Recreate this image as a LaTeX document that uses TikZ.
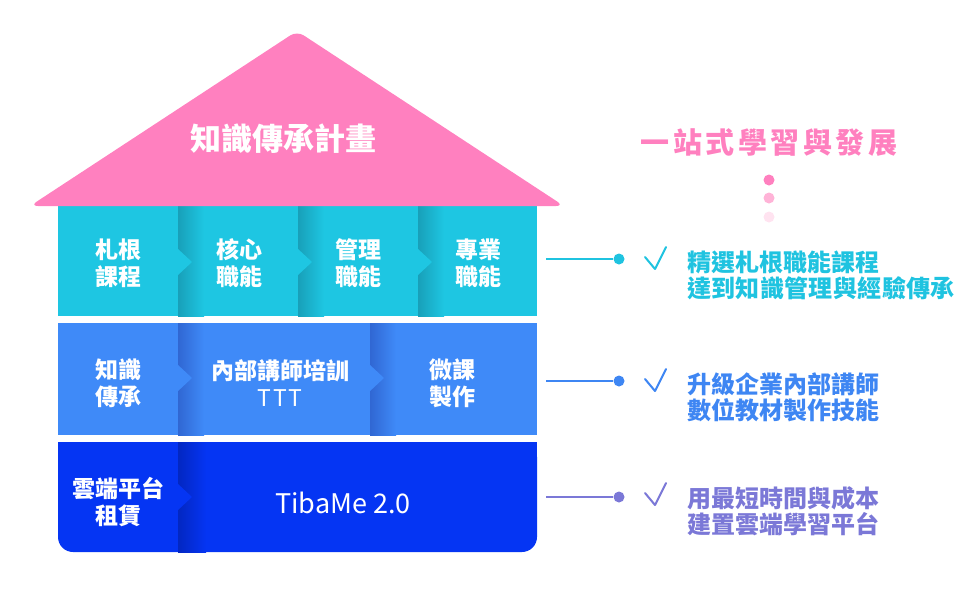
\documentclass[tikz,border=0pt]{standalone}
\usepackage{fontspec}
\setmainfont{Noto Sans CJK TC}
\definecolor{pinkR}{HTML}{FF80BF}
\definecolor{dotA}{HTML}{FF80BF}
\definecolor{dotB}{HTML}{FFB3D7}
\definecolor{dotC}{HTML}{FFE3F0}
\definecolor{cyanB}{HTML}{1EC6E2}
\definecolor{cyanD}{HTML}{18A0B9}
\definecolor{blueB}{HTML}{3F8AF8}
\definecolor{blueD}{HTML}{3067D3}
\definecolor{navyB}{HTML}{0535F3}
\definecolor{navyD}{HTML}{0327C2}
\definecolor{cyanT}{HTML}{1FC3E0}
\definecolor{blueT}{HTML}{3E86F3}
\definecolor{purpT}{HTML}{7B78D7}
\tikzset{
  bandtxt/.style={text=white, align=center, inner sep=0pt, font=\bfseries\fontsize{23}{27}\selectfont},
  rtxt/.style={anchor=west, align=left, inner sep=0pt, font=\bfseries\fontsize{24}{26}\selectfont},
  dotn/.style={circle, inner sep=0pt, minimum size=11pt},
  conn/.style={line width=1.8pt},
  chk/.style={line width=2pt, line cap=round, line join=round}
}
\begin{document}
\begin{tikzpicture}[x=1pt,y=-1pt]
\useasboundingbox (0,0) rectangle (970,600);
% ---- band 1
\fill[cyanB] (58,203) rectangle (537,316);
\foreach \xb in {178,298,418}{
  \shade[left color=cyanD, right color=cyanB] (\xb,203) rectangle (\xb+26,316);
  \fill[cyanB] (\xb-1,248) -- (\xb+14,262) -- (\xb-1,276) -- cycle;
}
% ---- band 2
\fill[blueB] (58,323) rectangle (537,435);
\foreach \xb in {178,370}{
  \shade[left color=blueD, right color=blueB] (\xb,323) rectangle (\xb+26,435);
  \fill[blueB] (\xb-1,364) -- (\xb+14,378) -- (\xb-1,392) -- cycle;
}
% ---- band 3
\fill[navyB, rounded corners=15pt] (58,442) rectangle (537,552);
\fill[navyB] (58,442) rectangle (537,480);
\shade[left color=navyD, right color=navyB] (178,442) rectangle (206,552);
\fill[navyB] (177,483) -- (192,497) -- (177,511) -- cycle;
% ---- roof
\fill[pinkR, rounded corners=8pt] (297,31) -- (564,206) -- (30,206) -- cycle;
\node[text=white, inner sep=0pt, font=\bfseries\fontsize{31}{34}\selectfont] (roof) at (283,139) {知識傳承計畫};
% ---- band texts
\node[bandtxt] (a1) at (118,263) {札根\\課程};
\node[bandtxt] (a2) at (239,263) {核心\\職能};
\node[bandtxt] (a3) at (358,263) {管理\\職能};
\node[bandtxt] (a4) at (478,263) {專業\\職能};
\node[bandtxt] (b1) at (118,383) {知識\\傳承};
\node[bandtxt] (b2) at (280,383) {內部講師培訓\\{\mdseries\addfontfeatures{LetterSpace=6}TTT}};
\node[bandtxt] (b3) at (452,383) {微課\\製作};
\node[bandtxt] (c1) at (118,502) {雲端平台\\租賃};
\node[text=white, inner sep=0pt, font=\fontsize{27}{30}\selectfont] (c2) at (343,503) {TibaMe 2.0};
% ---- right side title
\node[text=pinkR, inner sep=0pt, font=\bfseries\fontsize{29}{32}\selectfont\addfontfeatures{LetterSpace=12}] (title) at (769,143) {一站式學習與發展};
\node[dotn, fill=dotA] (d1) at (769,180) {};
\node[dotn, fill=dotB] (d2) at (769,198) {};
\node[dotn, fill=dotC] (d3) at (769,217) {};
% ---- row 1
\coordinate (r1s) at (546,259);
\node[dotn, fill=cyanT] (r1d) at (619,259) {};
\draw[conn, cyanT] (r1s) -- (r1d);
\draw[chk, cyanT] (645,257) -- (655,269) -- (666,247);
\node[rtxt, text=cyanT] (r1t) at (687,275) {精選札根職能課程\\\addfontfeatures{LetterSpace=1.5}達到知識管理與經驗傳承};
% ---- row 2
\coordinate (r2s) at (546,381);
\node[dotn, fill=blueT] (r2d) at (619,381) {};
\draw[conn, blueT] (r2s) -- (r2d);
\draw[chk, blueT] (645,379) -- (655,391) -- (666,369);
\node[rtxt, text=blueT] (r2t) at (687,397) {升級企業內部講師\\數位教材製作技能};
% ---- row 3
\coordinate (r3s) at (546,497);
\node[dotn, fill=purpT] (r3d) at (619,497) {};
\draw[conn, purpT] (r3s) -- (r3d);
\draw[chk, purpT] (645,493) -- (655,505) -- (666,483);
\node[rtxt, text=purpT] (r3t) at (687,511) {用最短時間與成本\\建置雲端學習平台};
\end{tikzpicture}
\end{document}
